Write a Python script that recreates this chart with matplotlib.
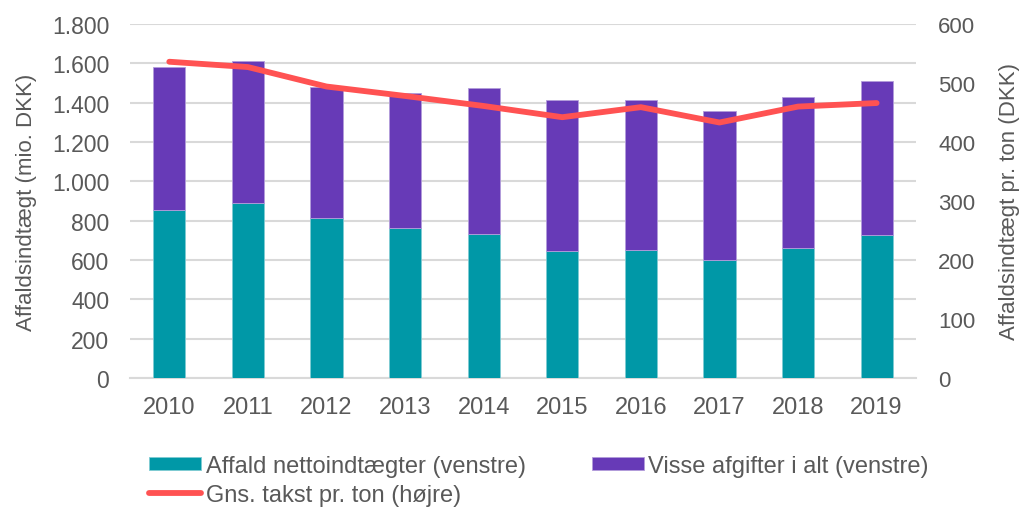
import matplotlib.pyplot as plt
import numpy as np

plt.rcParams['font.family'] = ['Liberation Sans', 'DejaVu Sans']

# data
years = ['2010', '2011', '2012', '2013', '2014', '2015', '2016', '2017', '2018', '2019']
netto = [853, 889, 813, 763, 733, 646, 651, 600, 662, 726]
total = [1583, 1610, 1479, 1450, 1474, 1411, 1413, 1357, 1428, 1508]
afgifter = [t - n for t, n in zip(total, netto)]
takst = [536, 527, 494, 478, 461, 442, 459, 433, 460, 466]

teal = '#0098A7'
purple = '#673AB7'
red = '#FF5252'
grey = '#595959'

fig = plt.figure(figsize=(10.22, 5.1), dpi=100)
ax = fig.add_axes([0.1272, 0.257, 0.769, 0.694])
ax2 = ax.twinx()

x = np.arange(len(years))
b1 = ax.bar(x, netto, width=0.41, color=teal, edgecolor='#7fcbd3', linewidth=0.6,
            label='Affald nettoindtægter (venstre)', zorder=3)
b2 = ax.bar(x, afgifter, width=0.41, bottom=netto, color=purple, edgecolor='#b39ddb',
            linewidth=0.6, label='Visse afgifter i alt (venstre)', zorder=3)
l1, = ax2.plot(x, takst, color=red, linewidth=4.2, solid_capstyle='round',
               label='Gns. takst pr. ton (højre)', zorder=4)

ax.set_xlim(-0.5, 9.5)
ax.set_ylim(0, 1800)
ax.set_yticks(range(0, 1801, 200))
ax.set_yticklabels([f'{v:,}'.replace(',', '.') for v in range(0, 1801, 200)])
ax2.set_ylim(0, 600)
ax2.set_yticks(range(0, 601, 100))

ax.set_xticks(x)
ax.set_xticklabels(years)
ax.grid(axis='y', color='#d9d9d9', linewidth=1.5, zorder=0)
ax.set_axisbelow(True)

for a in (ax, ax2):
    for s in a.spines.values():
        s.set_visible(False)
    a.tick_params(length=0, colors=grey)
ax.spines['bottom'].set_visible(True)
ax.spines['bottom'].set_color('#d9d9d9')
ax.spines['bottom'].set_linewidth(1.5)
ax.tick_params(axis='x', pad=13, labelsize=17)
ax.tick_params(axis='y', pad=15, labelsize=16.5)
ax2.tick_params(axis='y', pad=16, labelsize=16)

ax.set_ylabel('Affaldsindtægt (mio. DKK)', fontsize=16, color=grey, labelpad=11)
ax2.set_ylabel('Affaldsindtægt pr. ton (DKK)', fontsize=16, color=grey, labelpad=17)

fig.legend(handles=[b1, l1, b2], loc='upper left', bbox_to_anchor=(0.1458, 0.106),
           ncol=2, frameon=False, fontsize=17, labelcolor=grey,
           handlelength=2.2, handleheight=0.5, handletextpad=0.2, columnspacing=2.8,
           labelspacing=0.3, borderaxespad=0, borderpad=0)

fig.savefig('out.png', dpi=100)
